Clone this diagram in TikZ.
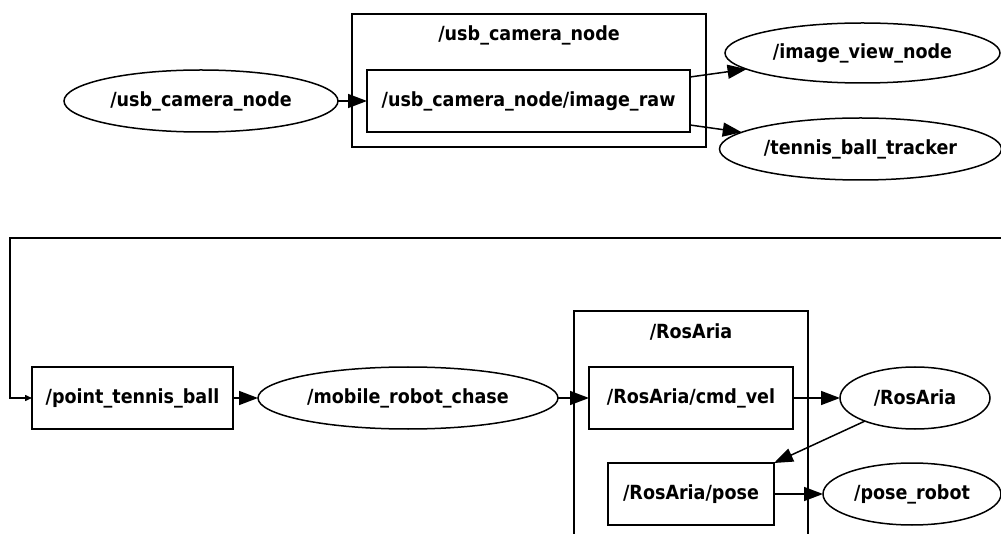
\documentclass[tikz,border=0pt]{standalone}
\usepackage{fontspec}
\setmainfont{DejaVu Sans Condensed}
\usetikzlibrary{shapes.geometric,arrows.meta}

\begin{document}
\begin{tikzpicture}[x=1pt, y=-1pt, line width=1.5pt,
    every node/.style={font=\bfseries\fontsize{19.5}{23}\selectfont},
    topic/.style={draw, rectangle, inner sep=0pt, outer sep=0pt},
    rosnode/.style={draw, ellipse, inner sep=0pt, outer sep=0pt},
    arr/.style={-{Triangle[length=19pt,width=14pt]}}]
    \useasboundingbox (0,0) rectangle (1001,534);
    \clip (0,0) rectangle (1001,534);

    % Camera
    \draw (352,14) rectangle (706,147);
    \node (camlabel) at (529,35) {/usb\_camera\_node};
    \node[rosnode, minimum width=274pt, minimum height=62pt] (usbcam) at (201,101) {/usb\_camera\_node};
    \node[topic, minimum width=323pt, minimum height=62pt] (raw) at (528.5,101) {/usb\_camera\_node/image\_raw};
    \node[rosnode, minimum width=275pt, minimum height=60pt] (view) at (862.5,53) {/image\_view\_node};
    \node[rosnode, minimum width=282pt, minimum height=62pt] (tracker) at (860.5,149) {/tennis\_ball\_tracker};
    \draw[arr] (usbcam) -- (raw);
    \draw[arr] ([yshift=24pt]raw.east) -- (view);
    \draw[arr] ([yshift=-24pt]raw.east) -- (tracker);

    % Robot
    \draw (574,311) rectangle (808,560);
    \node (roslabel) at (691,332) {/RosAria};
    \node[topic, minimum width=201pt, minimum height=62pt] (ptb) at (132.5,398) {/point\_tennis\_ball};
    \node[rosnode, minimum width=300pt, minimum height=62pt] (chase) at (408,398) {/mobile\_robot\_chase};
    \node[topic, minimum width=204pt, minimum height=62pt] (cmdvel) at (691,398) {/RosAria/cmd\_vel};
    \node[rosnode, minimum width=150pt, minimum height=62pt] (rosaria) at (915,398) {/RosAria};
    \node[topic, minimum width=166pt, minimum height=62pt] (pose) at (691,494) {/RosAria/pose};
    \node[rosnode, minimum width=178pt, minimum height=62pt] (poserobot) at (912,494) {/pose\_robot};
    \coordinate (loopin) at (1010,238);
    \draw[-{Triangle[length=7pt,width=6pt]}] (loopin) -| (10,398) -- (ptb.west);
    \draw[arr] (ptb) -- (chase);
    \draw[arr] (chase) -- (cmdvel);
    \draw[arr] (cmdvel) -- (rosaria);
    \draw[arr] (rosaria) -- (pose.north east);
    \draw[arr] (pose) -- (poserobot);
\end{tikzpicture}
\end{document}
